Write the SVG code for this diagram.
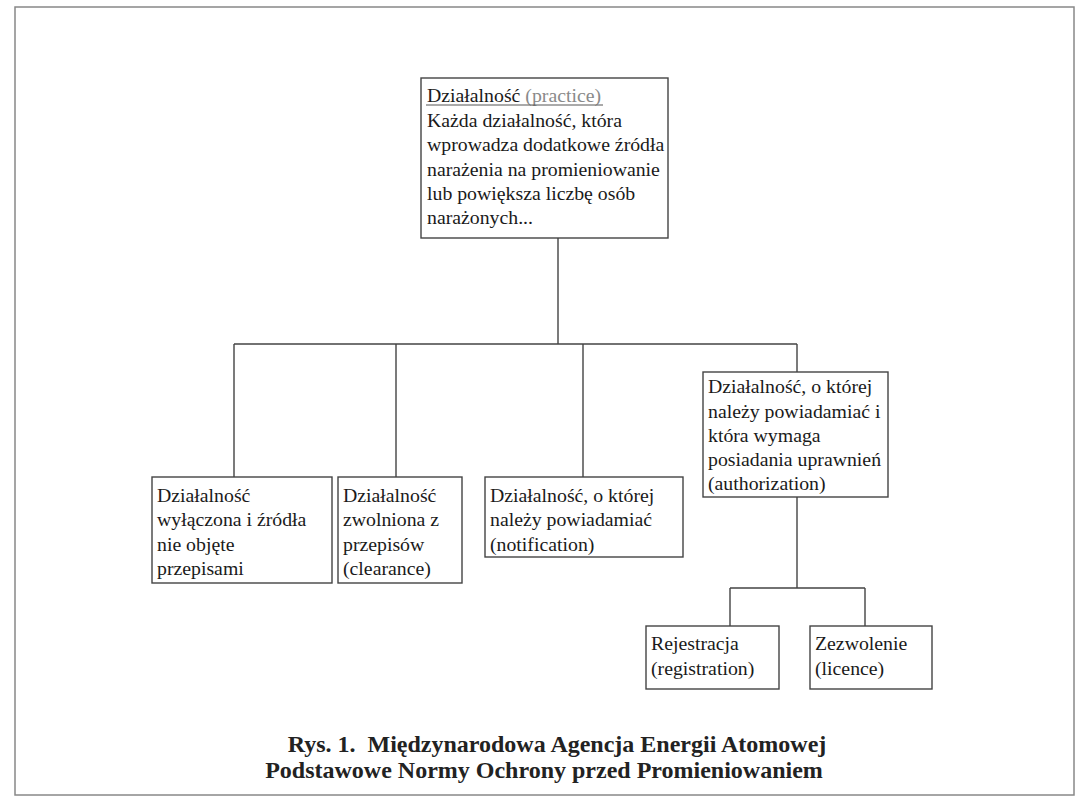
<svg xmlns="http://www.w3.org/2000/svg" width="1082" height="796" viewBox="0 0 1082 796">
<style>
.box{fill:#fff;stroke:#444;stroke-width:1.4}
.t{font-family:"Liberation Serif","Times New Roman",serif;font-size:19.8px;fill:#1a1a1a}
.cap{font-family:"Liberation Serif","Times New Roman",serif;font-size:24px;font-weight:bold;fill:#222}
.c{fill:none;stroke:#444;stroke-width:1.4}
</style>
<rect x="0" y="0" width="1082" height="796" fill="#fff"/>
<rect x="15" y="7" width="1059" height="788" fill="none" stroke="#888" stroke-width="1.5"/>
<g id="connectors">
<path class="c" d="M558 238 V344 M234 344 H797 M234 344 V477 M396 344 V477 M583 344 V477 M797 344 V372 M797 497 V588 M730 588 H865 M730 588 V626 M865 588 V626"/>
</g>
<g id="practice">
<rect class="box" x="421" y="78" width="247" height="160"/>
<text class="t" x="427" y="102">Działalność <tspan fill="#8a8a8a">(practice)</tspan></text>
<line x1="426" y1="105" x2="603" y2="105" stroke="#555" stroke-width="1"/>
<text class="t" x="427" y="127">Każda działalność, która</text>
<text class="t" x="427" y="151">wprowadza dodatkowe źródła</text>
<text class="t" x="427" y="176">narażenia na promieniowanie</text>
<text class="t" x="427" y="200">lub powiększa liczbę osób</text>
<text class="t" x="427" y="224">narażonych...</text>
</g>
<g id="excluded">
<rect class="box" x="152" y="477" width="180" height="106"/>
<text class="t" x="157" y="502">Działalność</text>
<text class="t" x="157" y="526">wyłączona i źródła</text>
<text class="t" x="157" y="551">nie objęte</text>
<text class="t" x="157" y="575">przepisami</text>
</g>
<g id="clearance">
<rect class="box" x="338" y="477" width="124" height="106"/>
<text class="t" x="343" y="502">Działalność</text>
<text class="t" x="343" y="526">zwolniona z</text>
<text class="t" x="343" y="551">przepisów</text>
<text class="t" x="343" y="575">(clearance)</text>
</g>
<g id="notification">
<rect class="box" x="485" y="477" width="198" height="80"/>
<text class="t" x="490" y="502">Działalność, o której</text>
<text class="t" x="490" y="526">należy powiadamiać</text>
<text class="t" x="490" y="551">(notification)</text>
</g>
<g id="authorization">
<rect class="box" x="703" y="372" width="185" height="125"/>
<text class="t" x="708" y="393">Działalność, o której</text>
<text class="t" x="708" y="418">należy powiadamiać i</text>
<text class="t" x="708" y="442">która wymaga</text>
<text class="t" x="708" y="466">posiadania uprawnień</text>
<text class="t" x="708" y="490">(authorization)</text>
</g>
<g id="registration">
<rect class="box" x="646" y="626" width="133" height="63"/>
<text class="t" x="651" y="650">Rejestracja</text>
<text class="t" x="651" y="675">(registration)</text>
</g>
<g id="licence">
<rect class="box" x="810" y="626" width="122" height="63"/>
<text class="t" x="815" y="650">Zezwolenie</text>
<text class="t" x="815" y="675">(licence)</text>
</g>
<g id="caption">
<text class="cap" x="557" y="752" text-anchor="middle" xml:space="preserve">Rys. 1.  Międzynarodowa Agencja Energii Atomowej</text>
<text class="cap" x="544" y="778" text-anchor="middle">Podstawowe Normy Ochrony przed Promieniowaniem</text>
</g>
</svg>
